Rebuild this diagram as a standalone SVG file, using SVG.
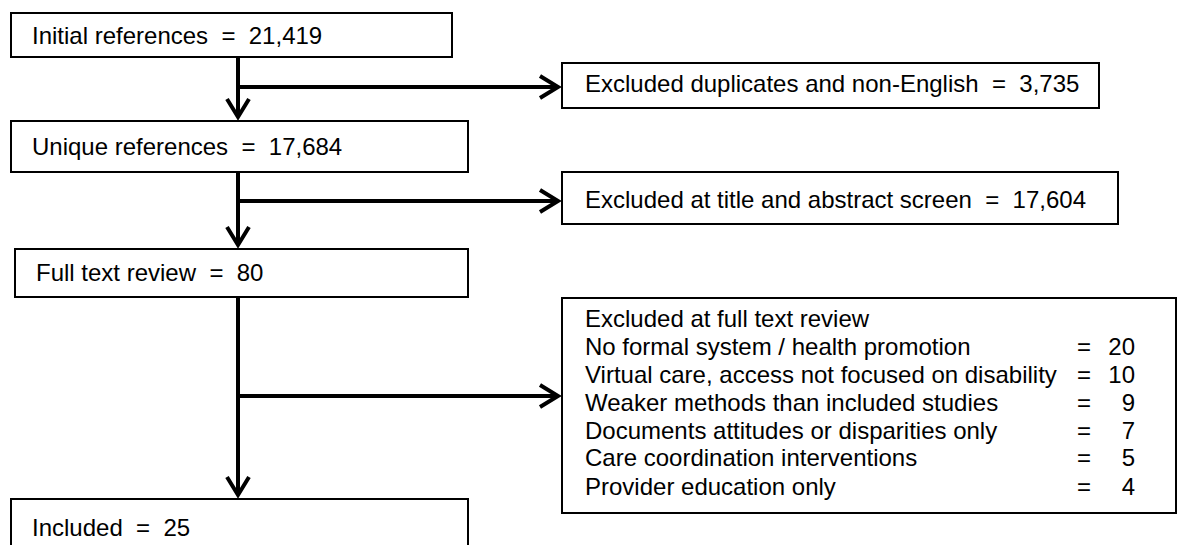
<svg xmlns="http://www.w3.org/2000/svg" width="1186" height="545" viewBox="0 0 1186 545">
  <style>
    .box { fill: #fff; stroke: #000; stroke-width: 2; }
    .lbl { font-family: "Liberation Sans", Arial, sans-serif; font-size: 24px; fill: #000; white-space: pre; }
    .num { text-anchor: end; }
    .flow { fill: none; stroke: #000; stroke-width: 4; }
  </style>
  <defs>
    <marker id="chev" markerUnits="userSpaceOnUse" markerWidth="24" markerHeight="26" refX="18" refY="11" orient="auto" overflow="visible">
      <path d="M0,0 L18,11 L0,22" fill="none" stroke="#000" stroke-width="4"/>
    </marker>
  </defs>

  <!-- connectors: main trunk segments and exclusion branches -->
  <g id="connectors">
    <path class="flow" d="M238,57 V117" marker-end="url(#chev)"/>
    <path class="flow" d="M238,87 H558" marker-end="url(#chev)"/>
    <path class="flow" d="M238,172 V245" marker-end="url(#chev)"/>
    <path class="flow" d="M238,201 H558" marker-end="url(#chev)"/>
    <path class="flow" d="M238,297 V495" marker-end="url(#chev)"/>
    <path class="flow" d="M238,396 H558" marker-end="url(#chev)"/>
  </g>

  <g id="initial">
    <rect class="box" x="11" y="13" width="441" height="44"/>
    <text class="lbl" x="32" y="44" xml:space="preserve">Initial references  =  21,419</text>
  </g>

  <g id="excluded-duplicates">
    <rect class="box" x="562" y="63" width="537" height="45"/>
    <text class="lbl" x="585" y="92" xml:space="preserve">Excluded duplicates and non-English  =  3,735</text>
  </g>

  <g id="unique">
    <rect class="box" x="11" y="121" width="457" height="51"/>
    <text class="lbl" x="32" y="155" xml:space="preserve">Unique references  =  17,684</text>
  </g>

  <g id="excluded-title-abstract">
    <rect class="box" x="562" y="172" width="556" height="52"/>
    <text class="lbl" x="585" y="208" xml:space="preserve">Excluded at title and abstract screen  =  17,604</text>
  </g>

  <g id="full-text">
    <rect class="box" x="15" y="249" width="453" height="48"/>
    <text class="lbl" x="36" y="281" xml:space="preserve">Full text review  =  80</text>
  </g>

  <g id="excluded-full-text">
    <rect class="box" x="562" y="298" width="614" height="215"/>
    <text class="lbl" x="585" y="327">Excluded at full text review</text>
    <text class="lbl" x="585" y="355">No formal system / health promotion</text>
    <text class="lbl" x="1077" y="355">=</text>
    <text class="lbl num" x="1135" y="355">20</text>
    <text class="lbl" x="585" y="383">Virtual care, access not focused on disability</text>
    <text class="lbl" x="1077" y="383">=</text>
    <text class="lbl num" x="1135" y="383">10</text>
    <text class="lbl" x="585" y="411">Weaker methods than included studies</text>
    <text class="lbl" x="1077" y="411">=</text>
    <text class="lbl num" x="1135" y="411">9</text>
    <text class="lbl" x="585" y="439">Documents attitudes or disparities only</text>
    <text class="lbl" x="1077" y="439">=</text>
    <text class="lbl num" x="1135" y="439">7</text>
    <text class="lbl" x="585" y="466">Care coordination interventions</text>
    <text class="lbl" x="1077" y="466">=</text>
    <text class="lbl num" x="1135" y="466">5</text>
    <text class="lbl" x="585" y="495">Provider education only</text>
    <text class="lbl" x="1077" y="495">=</text>
    <text class="lbl num" x="1135" y="495">4</text>
  </g>

  <g id="included">
    <rect class="box" x="11" y="499" width="457" height="52"/>
    <text class="lbl" x="32" y="536" xml:space="preserve">Included  =  25</text>
  </g>
</svg>
